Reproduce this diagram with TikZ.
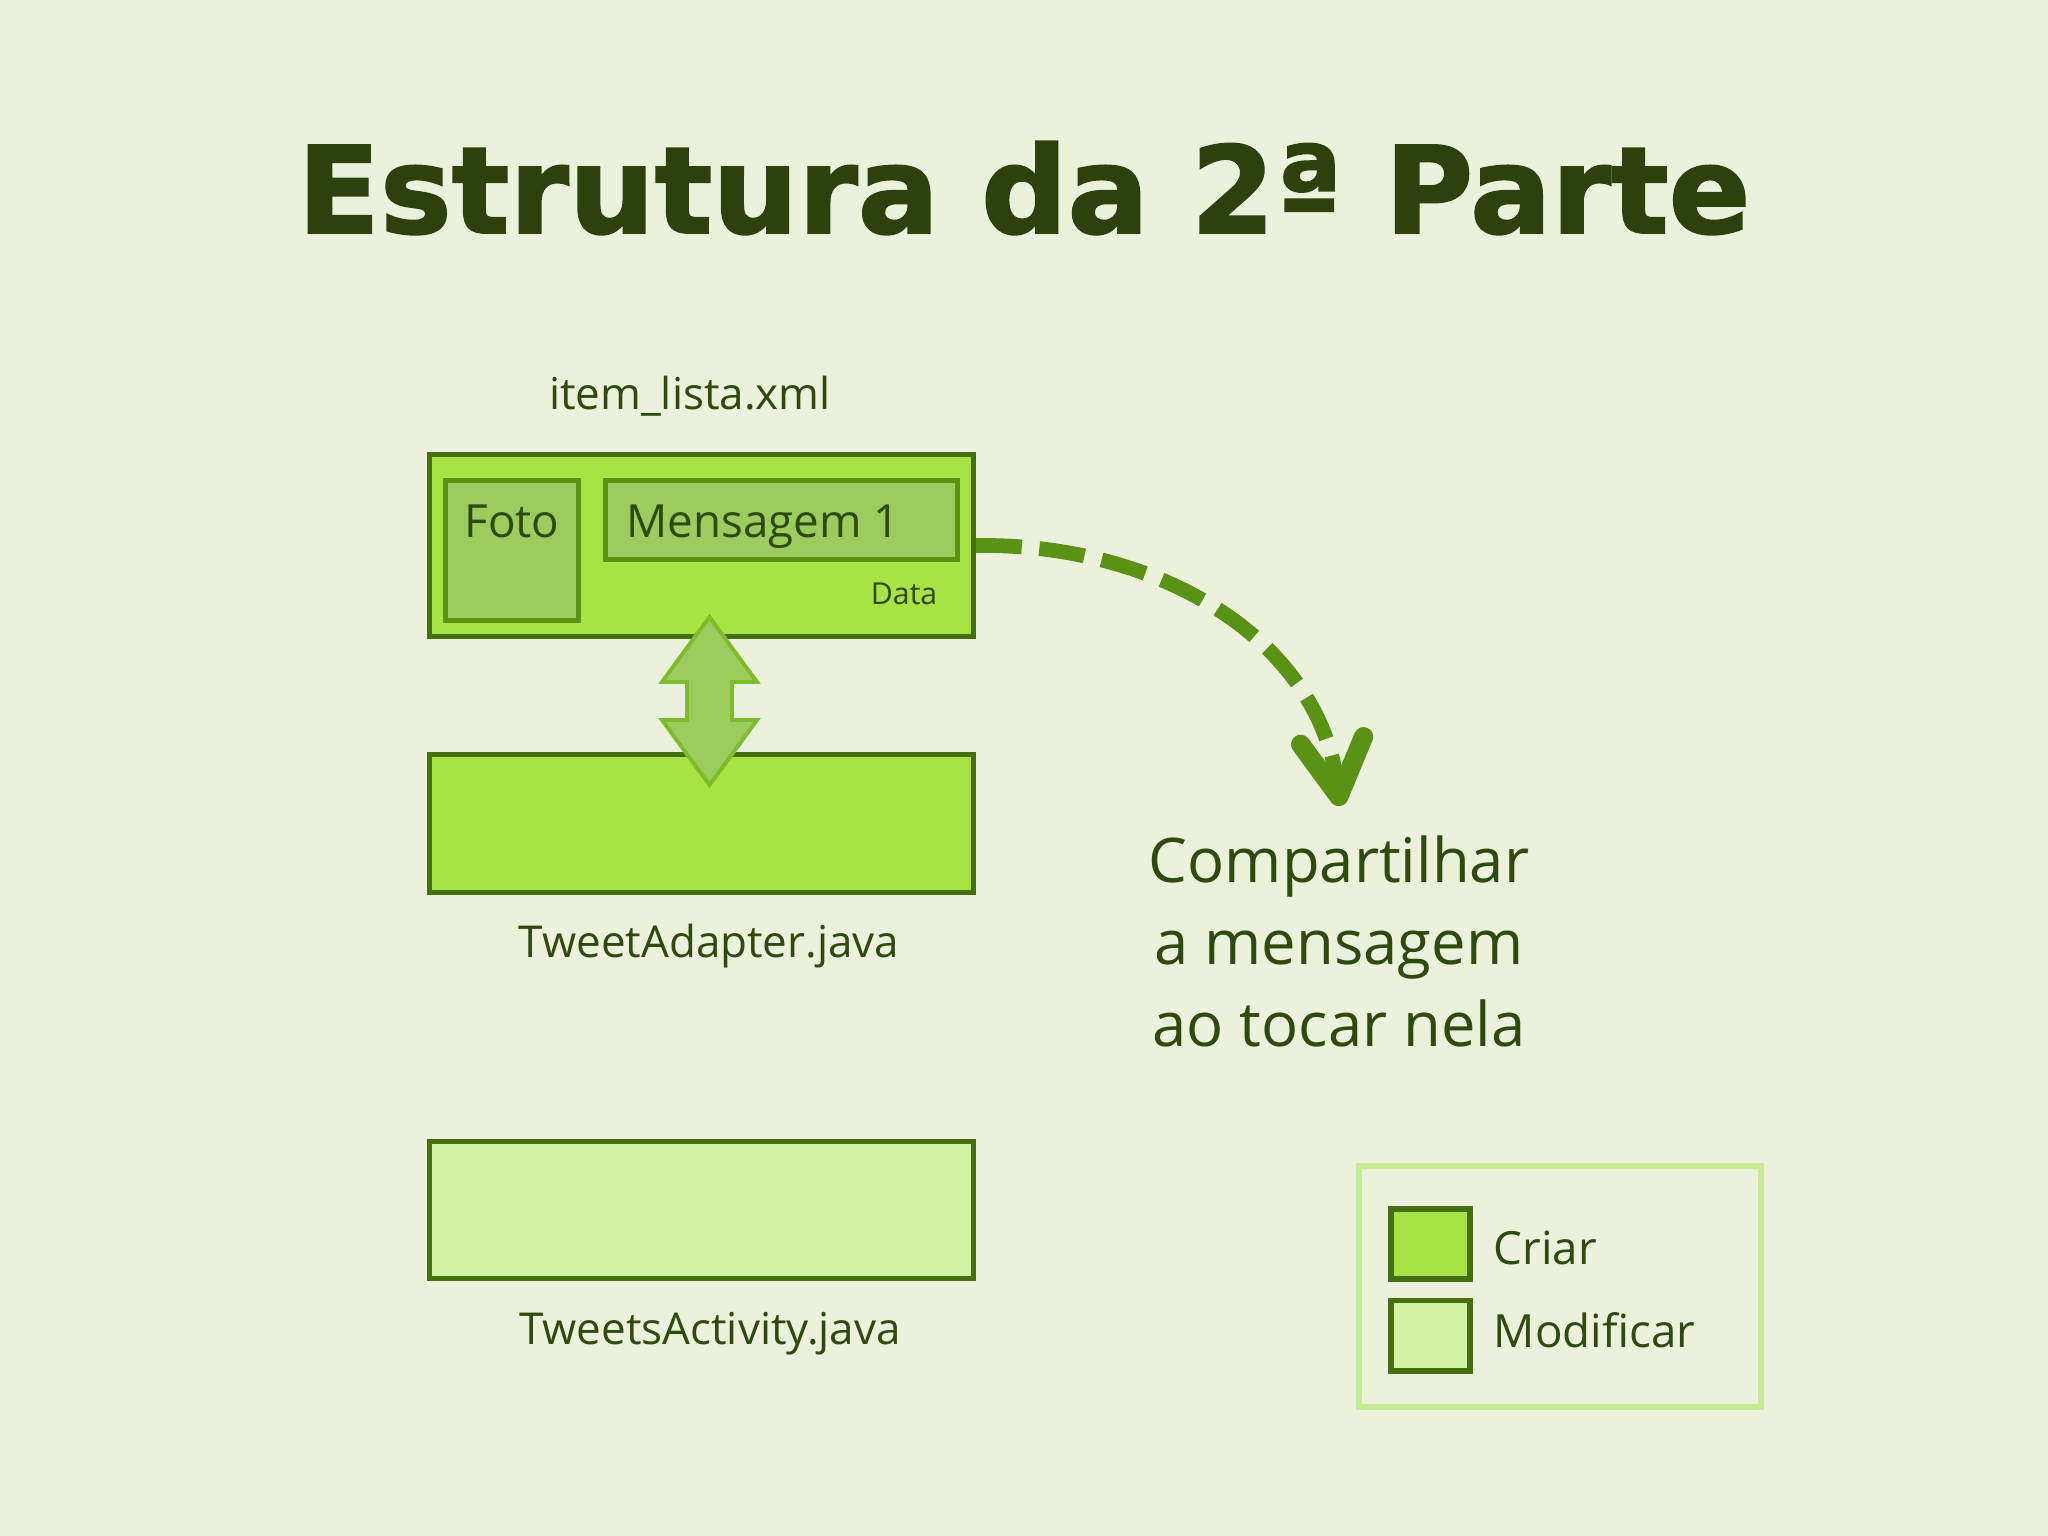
\documentclass[tikz,border=0pt]{standalone}
\usepackage{fontspec}
\setmainfont{Open Sans}
\newfontfamily\titlefont{DejaVu Sans}[BoldFeatures={FakeBold=1.6}]
\usetikzlibrary{arrows.meta}

\definecolor{paper}{HTML}{ECF1DE}
\definecolor{titleink}{HTML}{2C420A}
\definecolor{ink}{HTML}{2E4A0C}
\definecolor{boxline}{HTML}{46700F}
\definecolor{createfill}{HTML}{A8E243}
\definecolor{modifyfill}{HTML}{D4F2A4}
\definecolor{partfill}{HTML}{9CCB5E}
\definecolor{partline}{HTML}{5B9216}
\definecolor{swapline}{HTML}{7CBD2B}
\definecolor{shareline}{HTML}{5A9216}
\definecolor{keyframe}{HTML}{C6EC93}

\begin{document}
\begin{tikzpicture}[x=0.01cm, y=-0.01cm,
        filebox/.style={rectangle, draw=boxline, line width=1.4pt, minimum width=5.44cm, inner sep=0pt},
        partbox/.style={rectangle, draw=partline, fill=partfill, line width=1.4pt, inner sep=0pt},
        keybox/.style={rectangle, draw=boxline, line width=1.7pt, minimum width=0.79cm, minimum height=0.7cm, inner sep=0pt},
        label/.style={text=ink, inner sep=0pt, font=\fontsize{12.5}{15}\selectfont},
        swaparrow/.style={draw=swapline, fill=partfill, line width=1.1pt},
        sharearrow/.style={draw=shareline, line width=4.2pt, dash pattern=on 13pt off 5pt,
            -{Straight Barb[length=16pt, width=18pt, round, line width=5.5pt]}}
    ]
        % Background and margins
        \fill[paper] (0,0) rectangle (2048,1536);

        % Title
        \node[text=titleink, inner sep=0pt, anchor=base, font=\titlefont\bfseries\fontsize{34.3}{40}\selectfont]
            (title) at (1024,233) {Estrutura da 2ª Parte};

        % item_lista.xml with its parts
        \node[label, anchor=base] (itemname) at (690,409) {item\_lista.xml};
        \node[filebox, fill=createfill, minimum height=1.82cm] (item) at (701.5,545.5) {};
        \node[partbox, minimum width=1.33cm, minimum height=1.4cm] (foto) at (512,550.5) {};
        \node[partbox, minimum width=3.52cm, minimum height=0.79cm] (msg) at (781.5,520) {};
        \node[label, anchor=base, font=\fontsize{13}{15}\selectfont] (fototext) at (512,537) {Foto};
        \node[label, anchor=base west, font=\fontsize{13}{15}\selectfont] (msgtext) at (626,537) {Mensagem 1};
        \node[label, anchor=base east, font=\fontsize{8.6}{10}\selectfont] (date) at (938,604) {Data};

        % TweetAdapter.java
        \node[filebox, fill=createfill, minimum height=1.38cm] (adapter) at (701.5,823.5) {};
        \node[label, anchor=base] (adaptername) at (709,957) {TweetAdapter.java};

        % TweetsActivity.java
        \node[filebox, fill=modifyfill, minimum height=1.37cm] (activity) at (701.5,1210) {};
        \node[label, anchor=base] (activityname) at (710,1344) {TweetsActivity.java};

        % Link between layout and adapter
        \draw[swaparrow] (709.5,617) -- ++(47.5,65) -- ++(-25,0) -- ++(0,38) -- ++(25,0)
            -- (709.5,785) -- ++(-47.5,-65) -- ++(25,0) -- ++(0,-38) -- ++(-25,0) -- cycle;

        % Share on tap
        \coordinate (tap) at (1340,806);
        \draw[sharearrow] (item.east) .. controls (1160,543) and (1320,640) .. (tap);
        \node[text=ink, inner sep=0pt, align=center, font=\fontsize{17.5}{23.3}\selectfont]
            (share) at (1339,941) {Compartilhar\\a mensagem\\ao tocar nela};

        % Legend
        \node[rectangle, draw=keyframe, line width=1.7pt, minimum width=4.02cm, minimum height=2.41cm]
            (legend) at (1560,1286.5) {};
        \node[keybox, fill=createfill] (keycreate) at (1430.5,1244) {};
        \node[keybox, fill=modifyfill] (keymodify) at (1430.5,1335.5) {};
        \node[label, anchor=base west, font=\fontsize{13}{15}\selectfont] (createtext) at (1493,1264) {Criar};
        \node[label, anchor=base west, font=\fontsize{13}{15}\selectfont] (modifytext) at (1493,1347) {Modificar};
    \end{tikzpicture}
\end{document}
